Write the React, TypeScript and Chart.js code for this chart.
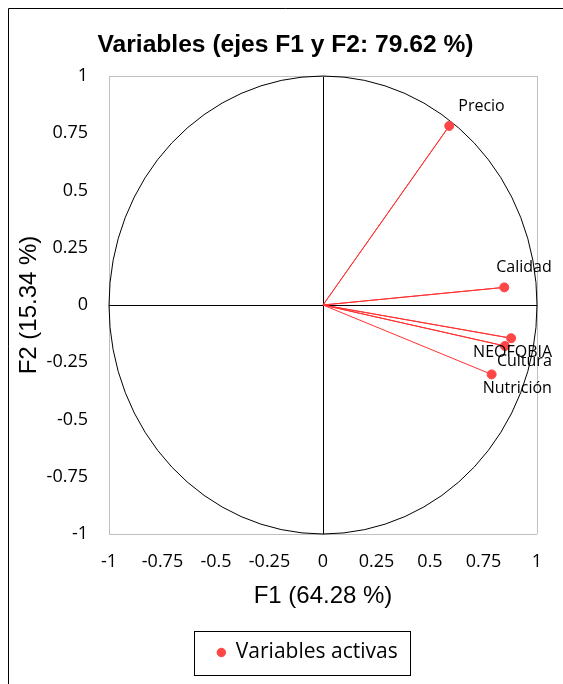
import React, { useEffect, useRef } from 'react';
import { Chart, registerables } from 'chart.js';

Chart.register(...registerables);

// ---- data ----
const VARIABLES = ['Precio', 'Calidad', 'NEOFOBIA', 'Cultura', 'Nutrición'];
const F1_VALUES = [0.59, 0.847, 0.879, 0.85, 0.788];
const F2_VALUES = [0.782, 0.077, -0.145, -0.179, -0.303];
const AXIS_TICKS = [-1, -0.75, -0.5, -0.25, 0, 0.25, 0.5, 0.75, 1];
const TITLE = 'Variables (ejes F1 y F2: 79.62 %)';
const X_TITLE = 'F1 (64.28 %)';
const Y_TITLE = 'F2 (15.34 %)';
const SERIES_NAME = 'Variables activas';

// ---- style ----
const W = 555;
const H = 676;
const RED = 'rgb(255,70,70)';
const LINE_RED = 'rgb(255,50,50)';
const LABEL_OFFSETS = [
  [9, -20],
  [-8, -20],
  [-38, 14],
  [-8, 15],
  [-9, 14],
];
const SANS = '"Liberation Sans", Arial, sans-serif';
const OPEN = '"Open Sans", sans-serif';

const gridColor = (ctx: any) => {
  const v = ctx.tick ? ctx.tick.value : null;
  if (v === 0) return '#000000';
  if (v === -1 || v === 1) return '#BFBFBF';
  return 'rgba(0,0,0,0)';
};

const bgPlugin = {
  id: 'bgBorder',
  beforeDraw(chart: any) {
    const ctx = chart.ctx;
    ctx.save();
    ctx.fillStyle = '#ffffff';
    ctx.fillRect(0, 0, chart.width, chart.height);
    ctx.strokeStyle = '#000000';
    ctx.lineWidth = 1;
    ctx.beginPath();
    ctx.moveTo(0.5, chart.height);
    ctx.lineTo(0.5, 0.5);
    ctx.lineTo(chart.width, 0.5);
    ctx.stroke();
    ctx.restore();
  },
};

const circlePlugin = {
  id: 'unitCircle',
  beforeDatasetsDraw(chart: any) {
    const xs = chart.scales.x;
    const ys = chart.scales.y;
    const cx = xs.getPixelForValue(0);
    const cy = ys.getPixelForValue(0);
    const rx = xs.getPixelForValue(1) - cx;
    const ry = cy - ys.getPixelForValue(1);
    const ctx = chart.ctx;
    ctx.save();
    ctx.strokeStyle = '#000000';
    ctx.lineWidth = 1;
    ctx.beginPath();
    ctx.ellipse(cx, cy, rx, ry, 0, 0, Math.PI * 2);
    ctx.stroke();
    ctx.restore();
  },
};

const labelsPlugin = {
  id: 'pointLabels',
  afterDatasetsDraw(chart: any) {
    const meta = chart.getDatasetMeta(0);
    const ctx = chart.ctx;
    ctx.save();
    ctx.font = `16px ${OPEN}`;
    ctx.fillStyle = '#000000';
    ctx.textAlign = 'left';
    ctx.textBaseline = 'middle';
    meta.data.forEach((pt: any, i: number) => {
      const [dx, dy] = LABEL_OFFSETS[i];
      ctx.fillText(VARIABLES[i], pt.x + dx, pt.y + dy);
    });
    ctx.restore();
  },
};

const legendPlugin = {
  id: 'legendBox',
  afterLayout(chart: any) {
    const lg = chart.legend;
    if (lg) {
      lg.left += 22;
      lg.right += 22;
    }
  },
  afterDraw(chart: any) {
    const lg = chart.legend;
    if (!lg || !lg.legendHitBoxes || !lg.legendHitBoxes.length) return;
    const hb = lg.legendHitBoxes[0];
    const cy = hb.top + hb.height / 2;
    const left = Math.round(hb.left - 23) + 0.5;
    const right = Math.round(hb.left + hb.width + 12) + 0.5;
    const top = Math.round(cy - 22) + 0.5;
    const bottom = Math.round(cy + 22) + 0.5;
    const ctx = chart.ctx;
    ctx.save();
    ctx.strokeStyle = '#000000';
    ctx.lineWidth = 1;
    ctx.strokeRect(left, top, right - left, bottom - top);
    ctx.restore();
  },
};

export default function App() {
  const ref = useRef<HTMLCanvasElement>(null);

  useEffect(() => {
    document.documentElement.style.overflow = 'hidden';
    document.body.style.overflow = 'hidden';
    const canvas = ref.current;
    if (!canvas) return;

    const points = F1_VALUES.map((x, i) => ({ x, y: F2_VALUES[i] }));
    const vectors: { x: number; y: number }[] = [];
    F1_VALUES.forEach((x, i) => {
      vectors.push({ x: 0, y: 0 });
      vectors.push({ x, y: F2_VALUES[i] });
    });

    const chart = new Chart(canvas, {
      type: 'scatter',
      data: {
        datasets: [
          {
            label: SERIES_NAME,
            data: points,
            backgroundColor: RED,
            borderColor: RED,
            pointRadius: 4.5,
            pointHoverRadius: 4.5,
            order: 0,
          },
          {
            label: 'vectores',
            data: vectors,
            showLine: true,
            borderColor: LINE_RED,
            backgroundColor: LINE_RED,
            borderWidth: 1,
            pointRadius: 0,
            pointHoverRadius: 0,
            order: 1,
          } as any,
        ],
      },
      options: {
        responsive: false,
        maintainAspectRatio: false,
        animation: false,
        devicePixelRatio: 1,
        layout: { padding: { left: 0, right: 0, top: 0, bottom: 11 } },
        plugins: {
          title: {
            display: true,
            text: TITLE,
            color: '#000000',
            font: { family: SANS, size: 24.6, weight: 'bold', lineHeight: 1.2 },
            padding: { top: 22, bottom: 16.5 },
          },
          legend: {
            position: 'bottom',
            labels: {
              filter: (item: any) => item.text === SERIES_NAME,
              usePointStyle: true,
              pointStyle: 'circle',
              boxWidth: 8,
              boxHeight: 6,
              padding: 10,
              color: '#000000',
              font: { family: OPEN, size: 21 },
            },
          },
          tooltip: { enabled: false },
        },
        scales: {
          x: {
            type: 'linear',
            position: 'bottom',
            min: -1,
            max: 1,
            afterBuildTicks: (s: any) => {
              s.ticks = AXIS_TICKS.map((v) => ({ value: v }));
            },
            afterFit: (s: any) => {
              s.height = 98;
            },
            ticks: {
              callback: (v: any) => String(v),
              padding: 17,
              color: '#000000',
              maxRotation: 0,
              autoSkip: false,
              font: { family: OPEN, size: 18 },
            },
            grid: { color: gridColor, lineWidth: 1, drawTicks: false },
            border: { display: false },
            title: {
              display: true,
              text: X_TITLE,
              color: '#000000',
              font: { family: SANS, size: 24 },
              padding: { top: 0, bottom: 21 },
            },
          },
          y: {
            type: 'linear',
            position: 'left',
            min: -1,
            max: 1,
            afterBuildTicks: (s: any) => {
              s.ticks = AXIS_TICKS.map((v) => ({ value: v }));
            },
            afterFit: (s: any) => {
              s.width = 101;
            },
            ticks: {
              callback: (v: any) => String(v),
              padding: 21,
              color: '#000000',
              autoSkip: false,
              font: { family: OPEN, size: 18 },
            },
            grid: { color: gridColor, lineWidth: 1, drawTicks: false },
            border: { display: false },
            title: {
              display: true,
              text: Y_TITLE,
              color: '#000000',
              font: { family: SANS, size: 24 },
              padding: { top: 7, bottom: 0 },
            },
          },
          y2: {
            type: 'linear',
            position: 'right',
            display: true,
            grid: { display: false },
            border: { display: false },
            ticks: { display: false },
            afterFit: (s: any) => {
              s.width = 26;
            },
          },
        },
      } as any,
      plugins: [bgPlugin, circlePlugin, labelsPlugin, legendPlugin],
    });

    return () => chart.destroy();
  }, []);

  return (
    <div style={{ position: 'fixed', left: 8, top: 8, width: W, height: H }}>
      <canvas ref={ref} width={W} height={H} style={{ display: 'block', width: W, height: H }} />
    </div>
  );
}
